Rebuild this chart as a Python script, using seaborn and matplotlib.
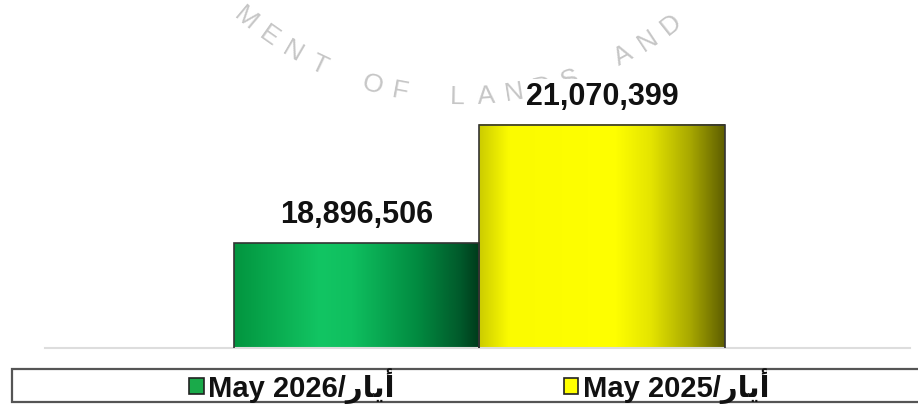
"""Bar chart: May 2026 vs May 2025 totals."""

import matplotlib

matplotlib.use("Agg")
import matplotlib.pyplot as plt
import numpy as np
import pandas as pd
import seaborn as sns
from matplotlib.colors import LinearSegmentedColormap
from matplotlib.patches import Rectangle

# data
periods = ["أيار/May 2026", "أيار/May 2025"]
values = [18896506, 21070399]
bar_colors = ["#1aaa4a", "#ffff00"]

# watermark text (drawn letter by letter along an arc)
watermark = "DEPARTMENT OF LANDS AND SURVEY"

# arabic "أيار" in shaped glyphs, visual (left-to-right) order
AYAR_VISUAL = "\ufead\ufe8e\ufef3\ufe83"


def display_label(name: str) -> str:
    latin = name.split("/", 1)[1]
    return f"{latin}/{AYAR_VISUAL}"


gradients = [
    LinearSegmentedColormap.from_list(
        "green",
        [(0.0, "#02953f"), (0.35, "#12c563"), (0.48, "#0fbf5f"),
         (0.75, "#018a40"), (0.92, "#015a2b"), (1.0, "#003a1a")],
    ),
    LinearSegmentedColormap.from_list(
        "yellow",
        [(0.0, "#cccc00"), (0.12, "#fbfb00"), (0.55, "#ffff00"),
         (0.7, "#e4e400"), (0.86, "#a8a800"), (1.0, "#5e5e00")],
    ),
]

df = pd.DataFrame({"period": periods, "value": values})

sns.set_style("white")
plt.rcParams["font.family"] = ["Liberation Sans", "DejaVu Sans"]

W, H = 918, 410
fig = plt.figure(figsize=(W / 100, H / 100), dpi=100)
ax = fig.add_axes([45 / W, 1 - 349 / H, 865 / W, 349 / H])
ax.patch.set_alpha(0)

sns.barplot(
    data=df, x="period", y="value", hue="period", palette=bar_colors,
    width=1.0, edgecolor="#333333", linewidth=1.2, legend=False, ax=ax,
)

ymin, ymax = 16963000, 23390000
for patch, cmap in zip(ax.patches, gradients):
    x0, w, h = patch.get_x(), patch.get_width(), patch.get_height()
    grad = np.linspace(0, 1, 256)[None, :]
    ax.imshow(grad, cmap=cmap, aspect="auto", extent=[x0, x0 + w, ymin, h],
              zorder=2, interpolation="bicubic")
    patch.set_facecolor("none")
    patch.set_zorder(3)
    ax.annotate(f"{h:,.0f}", xy=(x0 + w / 2, h), xytext=(0, 21),
                textcoords="offset points", ha="center", va="center",
                fontsize=22, fontweight="bold", color="#111111", zorder=5,
                bbox=dict(facecolor="white", edgecolor="none", pad=1))

ax.set_xlim(-1.273, 2.257)
ax.set_ylim(ymin, ymax)
ax.set_xlabel("")
ax.set_ylabel("")
ax.set_xticks([])
ax.set_yticks([])
for side in ["left", "right", "top"]:
    ax.spines[side].set_visible(False)
ax.spines["bottom"].set_color("#dddddd")
ax.spines["bottom"].set_linewidth(1.5)

# watermark letters on an arc (pixel geometry), behind the axes
cx, cy, R = 462, -239, 336
step = 4.9
theta0 = -40.0 - watermark.index("M") * step
for i, ch in enumerate(watermark):
    th = np.radians(theta0 + i * step)
    px = cx + R * np.sin(th)
    py = cy + R * np.cos(th)
    if ch == " " or py < 8:
        continue
    fig.text(px / W, 1 - py / H, ch, ha="center", va="center",
             rotation=np.degrees(th), rotation_mode="anchor",
             fontsize=19, color="#c6c6c6", zorder=-1)

# legend box along the bottom
fig.patches.append(Rectangle((12 / W, 1 - 403 / H), 920 / W, 33 / H,
                             transform=fig.transFigure, facecolor="white",
                             edgecolor="#555555", linewidth=1.6))
handles = [Rectangle((0, 0), 1, 1, facecolor=c, edgecolor="#222222", linewidth=1.2)
           for c in bar_colors]
fig.legend(handles, [display_label(p) for p in periods], ncol=2, frameon=False,
           loc="center", bbox_to_anchor=(479 / W, 1 - 386.5 / H),
           prop={"size": 21, "weight": "bold"}, labelcolor="#111111",
           handlelength=0.5, handleheight=0.5,
           handletextpad=0.15, columnspacing=5.8, borderpad=0)

fig.savefig("out.png", dpi=100)
plt.close(fig)
